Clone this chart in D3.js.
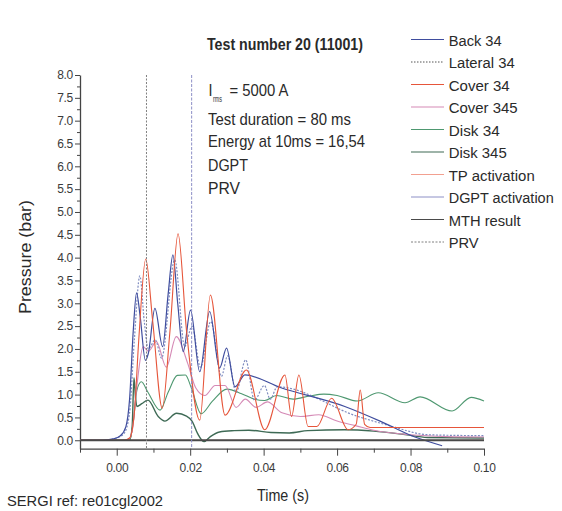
<!DOCTYPE html>
<html><head><meta charset="utf-8">
<script src="https://cdn.jsdelivr.net/npm/d3@7"></script>
<style>
html,body{margin:0;padding:0;background:#fff;}
svg{display:block;}
text{font-family:"Liberation Sans Narrow","Liberation Sans",Arial,sans-serif;fill:#2a2a2a;}
.tick text{font-size:12px;fill:#3a3a3a;letter-spacing:-0.3px;}
</style></head><body>
<svg id="c" width="562" height="511"></svg>
<script>
// ---------- data (time in s, pressure in bar) ----------
const seriesNames = ["Back 34","Lateral 34","Cover 34","Cover 345","Disk 34","Disk 345","TP activation","DGPT activation","MTH result","PRV"];

const back34 = [[-0.01,0],[-0.004,0],[-0.001,0.03],[0.001,0.1],[0.0025,0.3],[0.0035,0.9],[0.0045,2.4],[0.0054,3.23],[0.0064,2.7],[0.0078,1.75],[0.0086,1.9],[0.0104,2.89],[0.0125,2.05],[0.014,3.2],[0.0153,4.06],[0.0166,3.0],[0.0181,1.94],[0.0201,2.85],[0.0226,1.5],[0.0253,2.82],[0.028,1.58],[0.0299,2.02],[0.0322,1.17],[0.0349,1.43],[0.0447,1.15],[0.0621,0.74],[0.0717,0.42],[0.0812,0.07],[0.0886,-0.12]];

const lateral34 = [[-0.01,0],[-0.003,0],[0.0,0.05],[0.002,0.15],[0.0035,0.6],[0.0048,2.2],[0.0063,3.6],[0.0075,2.6],[0.0086,2.0],[0.0105,2.2],[0.0122,1.8],[0.0158,3.95],[0.0185,2.05],[0.0205,2.5],[0.0228,1.6],[0.0256,2.6],[0.0285,1.4],[0.0302,1.85],[0.0325,1.05],[0.0351,1.76],[0.0375,0.88],[0.0402,1.2],[0.0418,0.9],[0.0437,1.17],[0.0657,0.52],[0.0738,0.33],[0.085,0.12],[0.1,0.1]];

const cover34 = [[-0.01,0],[0.002,0],[0.0035,0.05],[0.0048,0.6],[0.006,2.2],[0.0079,3.97],[0.0098,2.6],[0.0124,0.7],[0.0145,2.4],[0.0167,4.52],[0.019,2.4],[0.0226,0.44],[0.0255,3.18],[0.0295,0.55],[0.0353,1.54],[0.0403,0.23],[0.0458,1.43],[0.0476,0.52],[0.0496,1.43],[0.0521,0.3],[0.0545,0.3],[0.0585,0.92],[0.063,0.23],[0.0652,0.35],[0.0663,1.1],[0.0675,0.35],[0.069,0.28],[0.1,0.28]];

const cover345 = [[-0.01,0],[0.003,0],[0.0042,0.2],[0.0055,1.2],[0.0072,2.05],[0.0086,1.95],[0.0108,2.16],[0.0135,1.6],[0.0162,2.27],[0.0193,1.69],[0.0215,1.15],[0.024,0.98],[0.0268,1.2],[0.0295,1.2],[0.0325,0.72],[0.035,0.9],[0.038,0.72],[0.041,0.84],[0.045,0.6],[0.05,0.52],[0.055,0.56],[0.06,0.42],[0.065,0.32],[0.07,0.22],[0.08,0.12],[0.09,0.08],[0.1,0.07]];

const disk34 = [[-0.01,0],[0.0035,0],[0.0045,0.4],[0.0055,1.1],[0.0067,1.28],[0.0085,1.05],[0.0118,0.66],[0.014,1.05],[0.0165,1.42],[0.0187,1.43],[0.0203,1.15],[0.023,0.58],[0.026,0.85],[0.03,1.12],[0.034,1.02],[0.0375,0.9],[0.0403,0.87],[0.0435,0.98],[0.048,0.9],[0.0525,0.97],[0.0564,1.01],[0.06,0.98],[0.0655,0.86],[0.0712,1.04],[0.0785,0.82],[0.0826,0.95],[0.0913,0.64],[0.0965,0.94],[0.1,0.86]];

const disk345 = [[-0.01,0],[0.0035,0],[0.0042,0.3],[0.0047,1.37],[0.0051,0.95],[0.0055,0.74],[0.0068,0.8],[0.0085,0.88],[0.0113,0.52],[0.0131,0.42],[0.0163,0.59],[0.019,0.53],[0.0205,0.42],[0.022,0.15],[0.0238,-0.03],[0.0255,0.08],[0.028,0.18],[0.032,0.21],[0.036,0.22],[0.042,0.17],[0.047,0.16],[0.052,0.21],[0.062,0.23],[0.07,0.2],[0.078,0.13],[0.0847,0.06],[0.1,0.05]];

const tpActivation = [[-0.01,0],[0.1,0]];
const mthResult = [[-0.01,0],[0.1,0]];
const dgptActivationTime = [0.0204];
const prvTime = [0.0081];

const xMajorTicks = [0,0.02,0.04,0.06,0.08,0.10];
const xMinorTicks = [-0.01,0.01,0.03,0.05,0.07,0.09];
const yMajorTicks = [0,0.5,1,1.5,2,2.5,3,3.5,4,4.5,5,5.5,6,6.5,7,7.5,8];
const yMinorTicks = [0.25,0.75,1.25,1.75,2.25,2.75,3.25,3.75,4.25,4.75,5.25,5.75,6.25,6.75,7.25,7.75];

// ---------- styles ----------
const styles = {
  "Back 34":        {color:"#3f4d9e", width:1.2, dash:null},
  "Lateral 34":     {color:"#7f8cc0", width:1.2, dash:"2,1.5"},
  "Cover 34":       {color:"#e6553a", width:1.1, dash:null},
  "Cover 345":      {color:"#d58ab6", width:1.1, dash:null},
  "Disk 34":        {color:"#4e9870", width:1.1, dash:null},
  "Disk 345":       {color:"#3e6a55", width:1.4, dash:null},
  "TP activation":  {color:"#f2a090", width:1, dash:null},
  "DGPT activation":{color:"#8d90c6", width:1, dash:"3,1.5"},
  "MTH result":     {color:"#4a4a4a", width:2, dash:null},
  "PRV":            {color:"#808080", width:1, dash:"2,1.5"}
};
const legendStyles = Object.assign({}, styles, {"Lateral 34":{color:"#555", width:1, dash:"1.5,1.5"}, "DGPT activation":{color:"#8d90c6", width:1, dash:null}});

const svg = d3.select("#c");
const x = d3.scaleLinear().domain([-0.01, 0.10]).range([80, 484]);
const y = d3.scaleLinear().domain([-0.185, 8]).range([448.7, 75]);

// ---------- axes ----------
svg.append("g").attr("transform","translate(0,448.7)")
  .call(d3.axisBottom(x).tickValues(xMajorTicks).tickSize(7).tickSizeOuter(0).tickPadding(8).tickFormat(d3.format(".2f")));
const gxm = svg.append("g").attr("transform","translate(0,448.7)")
  .call(d3.axisBottom(x).tickValues(xMinorTicks).tickSize(4).tickFormat(""));
gxm.select(".domain").remove();
svg.append("g").attr("transform","translate(80,0)")
  .call(d3.axisLeft(y).tickValues(yMajorTicks).tickSize(5).tickSizeOuter(0).tickPadding(2).tickFormat(d3.format(".1f")));
const gym = svg.append("g").attr("transform","translate(80,0)")
  .call(d3.axisLeft(y).tickValues(yMinorTicks).tickSize(3).tickFormat(""));
gym.select(".domain").remove();
svg.selectAll(".domain").attr("stroke","#444").attr("stroke-width",1.3);
svg.selectAll(".tick line").attr("stroke","#444").attr("stroke-width",1);

// ---------- curves ----------
const line = d3.line().x(d=>x(d[0])).y(d=>y(d[1])).curve(d3.curveMonotoneX);
const curveData = [
  ["TP activation", tpActivation],
  ["Disk 345", disk345],
  ["Disk 34", disk34],
  ["Cover 345", cover345],
  ["Lateral 34", lateral34],
  ["Back 34", back34],
  ["Cover 34", cover34],
  ["MTH result", mthResult]
];
curveData.forEach(([name,data])=>{
  const s = styles[name];
  svg.append("path").datum(data).attr("d", line)
    .attr("fill","none").attr("stroke", s.color).attr("stroke-width", s.width)
    .attr("stroke-dasharray", s.dash);
});
// vertical activation markers
[["PRV", prvTime],["DGPT activation", dgptActivationTime]].forEach(([name, times])=>{
  const s = styles[name];
  svg.selectAll(null).data(times).enter().append("line")
    .attr("x1", d=>x(d)).attr("x2", d=>x(d))
    .attr("y1", y(8)).attr("y2", y(-0.185))
    .attr("stroke", s.color).attr("stroke-width", s.width).attr("stroke-dasharray", s.dash);
});

// ---------- texts ----------
function txt(s, tx, ty, size, w, weight){
  const t = svg.append("text").attr("x",tx).attr("y",ty).attr("font-size",size)
    .attr("font-weight", weight||"normal").text(s);
  if (w) t.attr("textLength", w).attr("lengthAdjust","spacingAndGlyphs");
  return t;
}
txt("Test number 20 (11001)", 207, 50, 16, 156, "bold");
txt("I", 208.5, 95.5, 17, 4);
txt("rms", 213, 101.5, 9, 9);
txt("= 5000 A", 229.5, 95.5, 17, 59);
txt("Test duration = 80 ms", 208, 125, 17, 143);
txt("Energy at 10ms = 16,54", 208, 147, 17, 157);
txt("DGPT", 208, 170.5, 17, 40);
txt("PRV", 208, 194, 17, 32);

// legend
const legendWidths = [53,66,61,69,51,58,86,105,72,30];
seriesNames.forEach((name,i)=>{
  const by = 45.5 + i*22.5;
  const s = legendStyles[name];
  svg.append("line").attr("x1",411).attr("x2",444).attr("y1",by-6).attr("y2",by-6)
    .attr("stroke", s.color).attr("stroke-width", Math.min(s.width,1.2)).attr("stroke-dasharray", s.dash);
  txt(name, 448.7, by, 15.5, legendWidths[i]);
});

// axis titles
svg.append("text").attr("transform","translate(31,257) rotate(-90)").attr("text-anchor","middle")
  .attr("font-family","'Liberation Sans',Arial,sans-serif").attr("font-size",16).attr("fill","#444")
  .attr("textLength",114).attr("lengthAdjust","spacingAndGlyphs").text("Pressure (bar)");
txt("Time (s)", 257, 501, 17, 52).attr("fill","#333");
txt("SERGI ref: re01cgl2002", 7, 506, 15, 156);
</script>
</body></html>
